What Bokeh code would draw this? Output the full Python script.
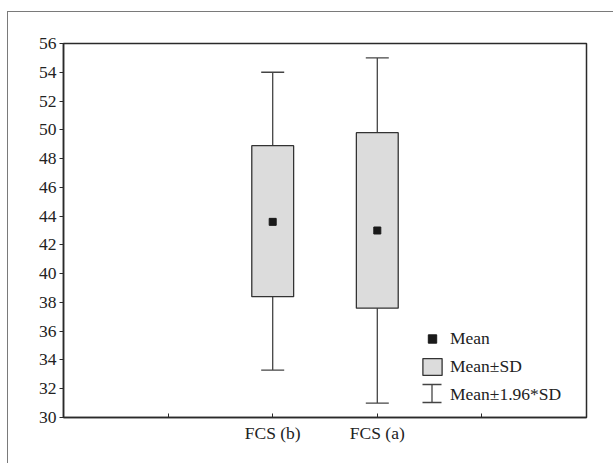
from bokeh.plotting import figure
from bokeh.models import (FactorRange, ColumnDataSource, Whisker, TeeHead, Legend,
                          LegendItem, FixedTicker)
from bokeh.embed import file_html
from bokeh.resources import INLINE

# ---- data ----
categories = ["FCS (b)", "FCS (a)"]
means = [43.6, 43.0]
sd_low = [38.4, 37.6]
sd_high = [48.9, 49.8]
ci_low = [33.3, 31.0]
ci_high = [54.0, 55.0]
y_ticks = list(range(30, 57, 2))
legend_labels = ["Mean", "Mean\u00b1SD", "Mean\u00b11.96*SD"]

FONT = "Liberation Serif"
DARK = "#2a2a2a"

src = ColumnDataSource(dict(cat=categories, mean=means, sd_low=sd_low, sd_high=sd_high,
                            ci_low=ci_low, ci_high=ci_high))

factors = [""] + categories + [" "]
p = figure(x_range=FactorRange(factors=factors, range_padding=0.5, range_padding_units="absolute"),
           y_range=(30, 56), width=606, height=452,
           output_backend="svg", toolbar_location=None,
           min_border_left=55, min_border_right=28, min_border_top=31, min_border_bottom=47)
p.styles = {"margin-left": "7px", "margin-top": "11px",
            "border-top": "1px solid #7a7a7a", "border-left": "1px solid #7a7a7a"}

p.xgrid.visible = False
p.ygrid.visible = False
p.outline_line_color = DARK
p.outline_line_width = 1.5

p.yaxis.ticker = FixedTicker(ticks=y_ticks)
p.yaxis.minor_tick_line_color = None
p.yaxis.major_tick_out = 4
p.yaxis.major_tick_in = 0
p.yaxis.major_label_standoff = 3
p.xaxis.major_tick_in = 4
p.xaxis.major_tick_out = 0
p.xaxis.major_label_standoff = 5
for ax in (p.xaxis, p.yaxis):
    ax.axis_line_color = DARK
    ax.axis_line_width = 1.5
    ax.major_tick_line_color = DARK
    ax.major_label_text_font = FONT
    ax.major_label_text_font_size = "17.5px"
    ax.major_label_text_color = "#222222"

whisk = Whisker(base="cat", lower="ci_low", upper="ci_high", source=src, level="underlay",
                line_color="#444444", line_width=1.3,
                upper_head=TeeHead(size=23, line_color="#444444", line_width=1.3),
                lower_head=TeeHead(size=23, line_color="#444444", line_width=1.3))
p.add_layout(whisk)

box_r = p.vbar(x="cat", width=0.4, bottom="sd_low", top="sd_high", source=src,
               fill_color="#dcdcdc", line_color="#333333", line_width=1.3)
mean_r = p.scatter(x="cat", y="mean", source=src, marker="square", size=7,
                   fill_color="#1a1a1a", line_color="#1a1a1a")
proxy_r = p.scatter(x=[categories[0]], y=[means[0]], marker="square", size=1, alpha=0)

legend = Legend(items=[LegendItem(label=legend_labels[0], renderers=[mean_r]),
                       LegendItem(label=legend_labels[1], renderers=[box_r]),
                       LegendItem(label=legend_labels[2], renderers=[proxy_r])],
                location=(357, 12), border_line_color=None, background_fill_alpha=0,
                padding=0, margin=0, spacing=7, glyph_width=24, glyph_height=21,
                label_height=20, label_standoff=6,
                label_text_font=FONT, label_text_font_size="17.5px", label_text_color="#222222")
p.add_layout(legend)

# legend icon for the +-1.96*SD item (frame-relative screen units)
icon_src = ColumnDataSource(dict(b=[368.5], lo=[15], hi=[33]))
icon = Whisker(base="b", lower="lo", upper="hi", source=icon_src,
               base_units="screen", lower_units="screen", upper_units="screen",
               dimension="height", level="overlay",
               line_color="#444444", line_width=1.3,
               upper_head=TeeHead(size=19, line_color="#444444", line_width=1.3),
               lower_head=TeeHead(size=19, line_color="#444444", line_width=1.3))
p.add_layout(icon)

open("out.html", "w").write(file_html(p, INLINE))
